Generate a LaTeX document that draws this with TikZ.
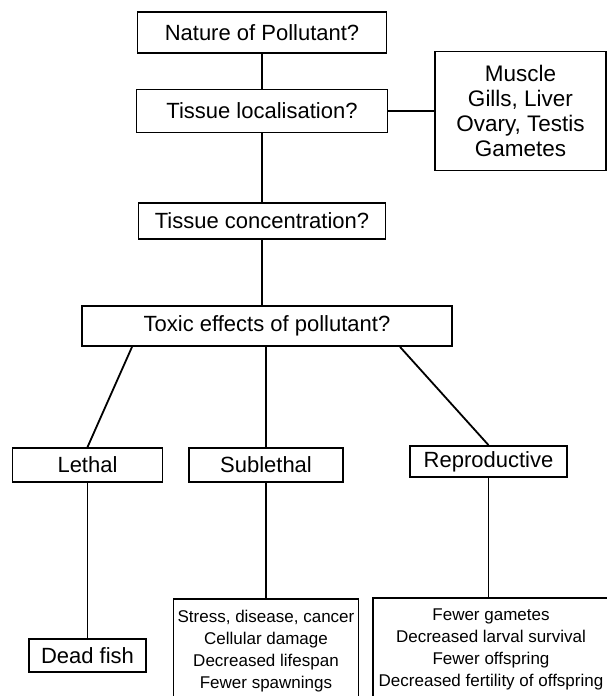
\documentclass[tikz,border=0pt]{standalone}
\usepackage{fontspec}
\setmainfont{Liberation Sans}
\begin{document}
\begin{tikzpicture}[x=1pt,y=-1pt,
  box/.style={draw,line width=1.8pt,inner sep=0pt,font=\fontsize{22}{25}\selectfont},
  listbox/.style={draw,line width=1.8pt,inner xsep=3pt,inner ysep=11pt,anchor=north,align=center,font=\fontsize{17}{22}\selectfont},
  ligne/.style={line width=1.8pt}]
\useasboundingbox (0,0) rectangle (607,696);
\clip (0,0) rectangle (607,696);
\node[box,minimum width=249pt,minimum height=41pt] (nature) at (262,32.5) {Nature of Pollutant?}; % top question
\node[box,minimum width=251pt,minimum height=43pt] (loc) at (262,111) {Tissue localisation?};
\node[box,minimum width=171pt,minimum height=119pt,align=center,font=\fontsize{22.5}{25.3}\selectfont] (tissues) at (520.5,111) {Muscle\\Gills, Liver\\Ovary, Testis\\Gametes}; % side box
\node[box,minimum width=247pt,minimum height=36pt] (conc) at (262,221) {Tissue concentration?};
\node[box,minimum width=370pt,minimum height=40pt] (tox) at (267,326) {Toxic effects of pollutant?};
\node[box,minimum width=150pt,minimum height=34pt] (lethal) at (87.5,465) {Lethal}; % three effects
\node[box,minimum width=154pt,minimum height=34pt] (sub) at (266,465) {Sublethal};
\node[box,minimum width=157pt,minimum height=31pt] (repro) at (488.5,461.5) {Reproductive};
\node[box,minimum width=117pt,minimum height=33pt] (dead) at (87.5,655.5) {Dead fish};
\node[listbox,minimum width=185pt] (sublist) at (266,598) {Stress, disease, cancer\\Cellular damage\\Decreased lifespan\\Fewer spawnings};
\node[listbox,minimum width=236pt] (replist) at (491,597) {Fewer gametes\\Decreased larval survival\\Fewer offspring\\Decreased fertility of offspring};
\draw[ligne] (nature) -- (loc); % main column
\draw[ligne] (loc) -- (tissues);
\draw[ligne] (loc) -- (conc);
\draw[ligne] (conc.south) -- (conc.south |- tox.north);
\draw[ligne] ([xshift=-135pt]tox.south) -- (lethal.north); % split
\draw[ligne] (sub.north |- tox.south) -- (sub.north);
\draw[ligne] ([xshift=133pt]tox.south) -- (repro.north);
\draw[ligne] (lethal) -- (dead);
\draw[ligne] (sub) -- (sublist);
\draw[ligne] (repro.south) -- (repro.south |- replist.north);
\end{tikzpicture}
\end{document}
